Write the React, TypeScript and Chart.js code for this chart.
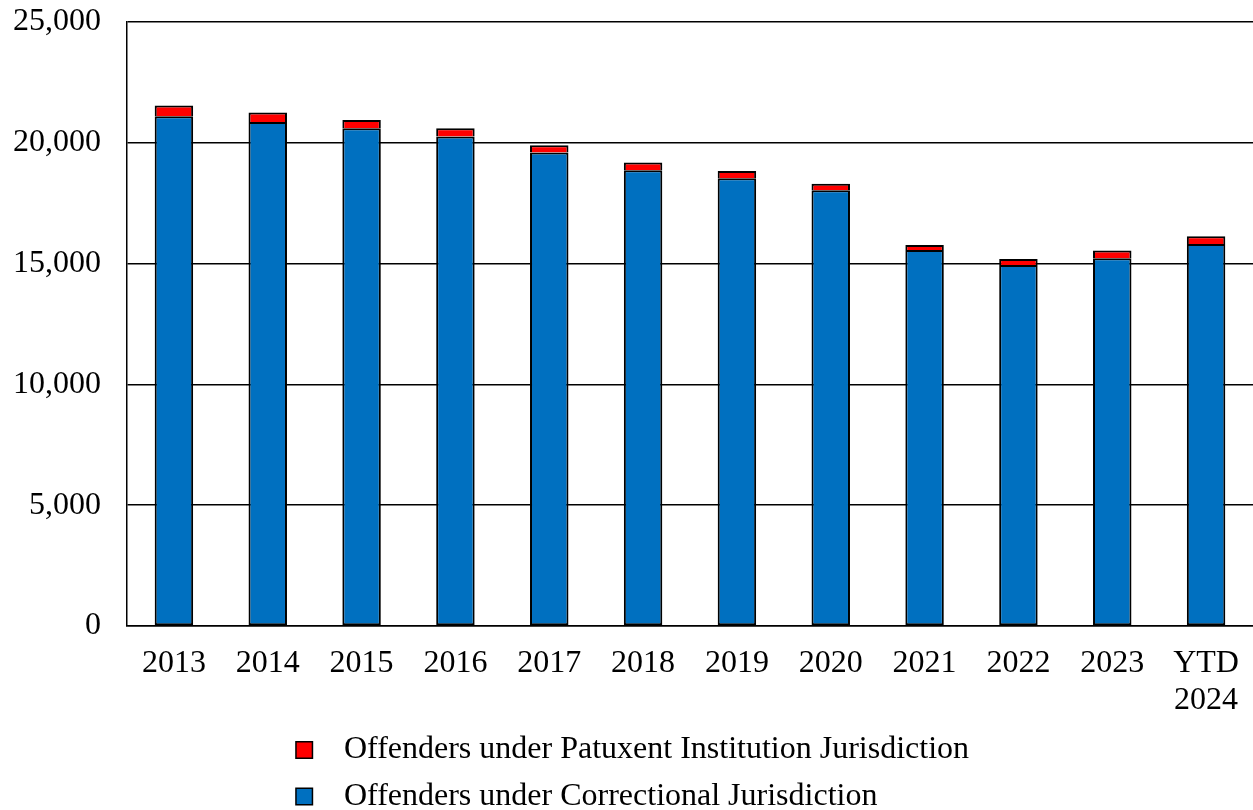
import React, { useEffect, useRef } from "react";
import { Chart, registerables } from "chart.js";

Chart.register(...registerables);

const categories: (string | string[])[] = [
  "2013", "2014", "2015", "2016", "2017", "2018", "2019", "2020", "2021", "2022", "2023", ["YTD", "2024"],
];
const correctional = [21100, 20860, 20600, 20260, 19600, 18860, 18530, 18040, 15560, 14940, 15220, 15810];
const patuxent = [440, 390, 340, 340, 300, 320, 300, 270, 210, 250, 320, 320];
const correctionalLabel = "Offenders under Correctional Jurisdiction";
const patuxentLabel = "Offenders under Patuxent Institution Jurisdiction";

const FONT = "'Liberation Serif', 'Times New Roman', serif";
const FS = 32;

const legendPlugin = {
  id: "customLegend",
  afterDraw(chart: any) {
    const ctx = chart.ctx;
    const items = chart.data.datasets.slice().reverse();
    ctx.save();
    ctx.font = `${FS}px ${FONT}`;
    const box = 16.5;
    const gap = 31.5;
    let maxW = 0;
    items.forEach((d: any) => {
      maxW = Math.max(maxW, ctx.measureText(d.label).width);
    });
    const total = box + gap + maxW;
    const x0 = (chart.width - total) / 2 + 6;
    const y0 = chart.chartArea.bottom + 124;
    const rowH = 46.5;
    items.forEach((d: any, i: number) => {
      const cy = y0 + i * rowH;
      ctx.fillStyle = d.backgroundColor;
      ctx.fillRect(x0, cy - box / 2, box, box);
      ctx.strokeStyle = "#000";
      ctx.lineWidth = 1.5;
      ctx.strokeRect(x0, cy - box / 2, box, box);
      ctx.fillStyle = "#000";
      ctx.textBaseline = "middle";
      ctx.textAlign = "left";
      ctx.fillText(d.label, x0 + box + gap, cy);
    });
    ctx.restore();
  },
};

export default function App() {
  const ref = useRef<HTMLCanvasElement>(null);
  useEffect(() => {
    document.body.style.margin = "0";
    const chart = new Chart(ref.current!, {
      type: "bar",
      data: {
        labels: categories,
        datasets: [
          {
            label: correctionalLabel,
            data: correctional,
            backgroundColor: "#0070C0",
            borderColor: "#000",
            borderWidth: 2,
            borderSkipped: false,
          },
          {
            label: patuxentLabel,
            data: patuxent,
            backgroundColor: "#FF0000",
            borderColor: "#000",
            borderWidth: 2,
            borderSkipped: "start",
          },
        ],
      },
      options: {
        responsive: false,
        animation: false,
        layout: { padding: { top: 22, right: 0, left: 0, bottom: 0 } },
        datasets: { bar: { barPercentage: 0.41, categoryPercentage: 1 } },
        plugins: { legend: { display: false }, tooltip: { enabled: false } },
        scales: {
          x: {
            stacked: true,
            grid: { display: false, drawTicks: false },
            border: { display: true, color: "#000", width: 1.5 },
            ticks: {
              color: "#000",
              font: { family: FONT, size: FS, lineHeight: 1.13 },
              padding: 20,
              maxRotation: 0,
              autoSkip: false,
            },
            afterFit: (s: any) => {
              s.height = 184;
              s.paddingLeft = 0;
              s.paddingRight = 0;
            },
          },
          y: {
            stacked: true,
            min: 0,
            max: 25000,
            grid: { color: "#000", lineWidth: 1.5, drawTicks: false },
            border: { display: true, color: "#000", width: 1.5 },
            ticks: {
              stepSize: 5000,
              color: "#000",
              font: { family: FONT, size: FS },
              padding: 26,
            },
            afterFit: (s: any) => {
              s.width = 127;
              s.paddingTop = 0;
              s.paddingBottom = 0;
            },
          },
        },
      },
      plugins: [legendPlugin],
    });
    return () => chart.destroy();
  }, []);
  return (
    <div style={{ width: 1253, height: 810 }}>
      <canvas ref={ref} width={1253} height={810} />
    </div>
  );
}
